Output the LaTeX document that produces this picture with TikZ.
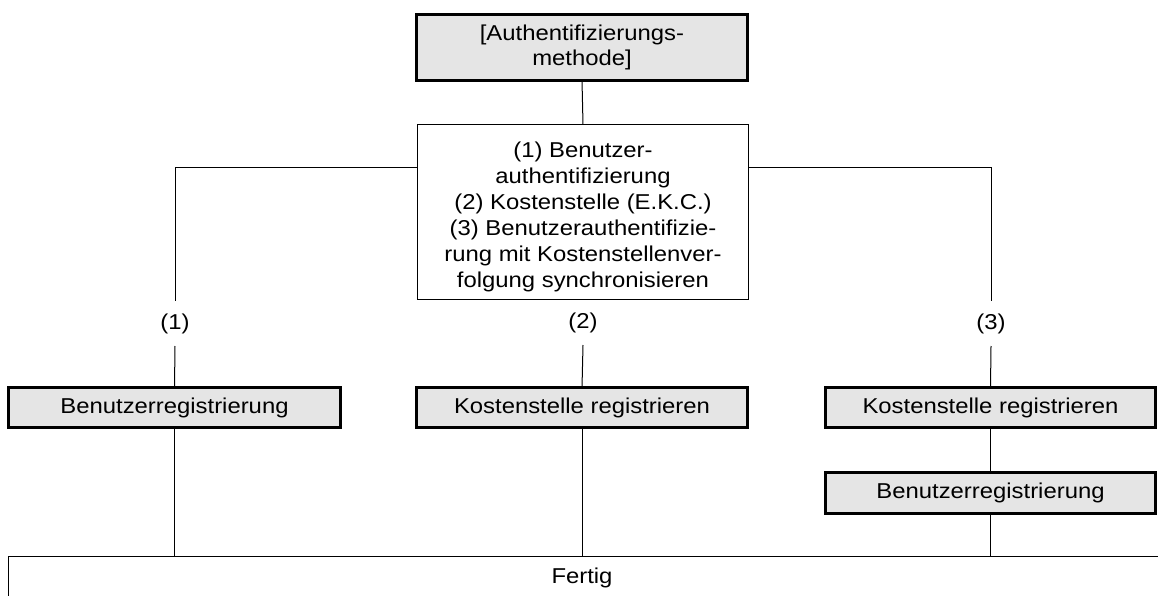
\documentclass[tikz,border=0pt]{standalone}
\usepackage{fontspec}
\setmainfont{Liberation Sans}[FakeStretch=1.11]
\begin{document}
\begin{tikzpicture}[x=1pt,y=-1pt,
  every node/.style={font=\fontsize{21.5}{25.5}\selectfont, inner sep=0pt, outer sep=0pt},
  graybox/.style={draw, line width=2.6pt, fill=black!10, align=center},
  mainbox/.style={draw, line width=1pt, fill=white},
  lbl/.style={minimum height=45pt},
  conn/.style={line width=1pt}]
\useasboundingbox (0,0) rectangle (1158,596);
\clip (0,0) rectangle (1158,596);
\fill[white] (0,0) rectangle (1158,596);

\node[graybox, minimum width=331.4pt, minimum height=66.4pt] (top) at (582,47.5)
  {[Authentifizierungs-\\methode]};
\node[mainbox, minimum width=331pt, minimum height=175pt] (main) at (583,212) {};
\node[align=center, font=\fontsize{21.5}{26}\selectfont] (maintxt) at (583,216.5)
  {(1) Benutzer-\\authentifizierung\\(2) Kostenstelle (E.K.C.)\\(3) Benutzerauthentifizie-\\rung mit Kostenstellenver-\\folgung synchronisieren};

\node[lbl] (l1) at (175,323.5) {(1)};
\node[lbl] (l2) at (583,322.5) {(2)};
\node[lbl] (l3) at (991,323.5) {(3)};

\node[graybox, minimum width=332.4pt, minimum height=40pt] (b1) at (174.5,407.7) {Benutzerregistrierung};
\node[graybox, minimum width=331.4pt, minimum height=40pt] (b2) at (582,407.5) {Kostenstelle registrieren};
\node[graybox, minimum width=330.4pt, minimum height=40pt] (b3) at (990.5,407.5) {Kostenstelle registrieren};
\node[graybox, minimum width=330.4pt, minimum height=41.4pt] (b4) at (990.5,493) {Benutzerregistrierung};

\node[draw, line width=1pt, minimum width=1200pt, minimum height=60pt, anchor=north west] (fbox) at (8.5,556.5) {};
\node (ftxt) at (582,578) {Fertig};

\draw[conn] (top.south) -- (main.north);
\draw[conn] (main.west |- 0,167.3) -| (l1.north);
\draw[conn] (main.east |- 0,167.3) -| (l3.north);
\draw[conn] (l1.south) -- (b1.north);
\draw[conn] (l2.south) -- (b2.north);
\draw[conn] (l3.south) -- (b3.north);
\draw[conn] (b3.south) -- (b4.north);
\draw[conn] (b1.south) -- (b1.south |- fbox.north);
\draw[conn] (b2.south) -- (b2.south |- fbox.north);
\draw[conn] (b4.south) -- (b4.south |- fbox.north);
\end{tikzpicture}
\end{document}
